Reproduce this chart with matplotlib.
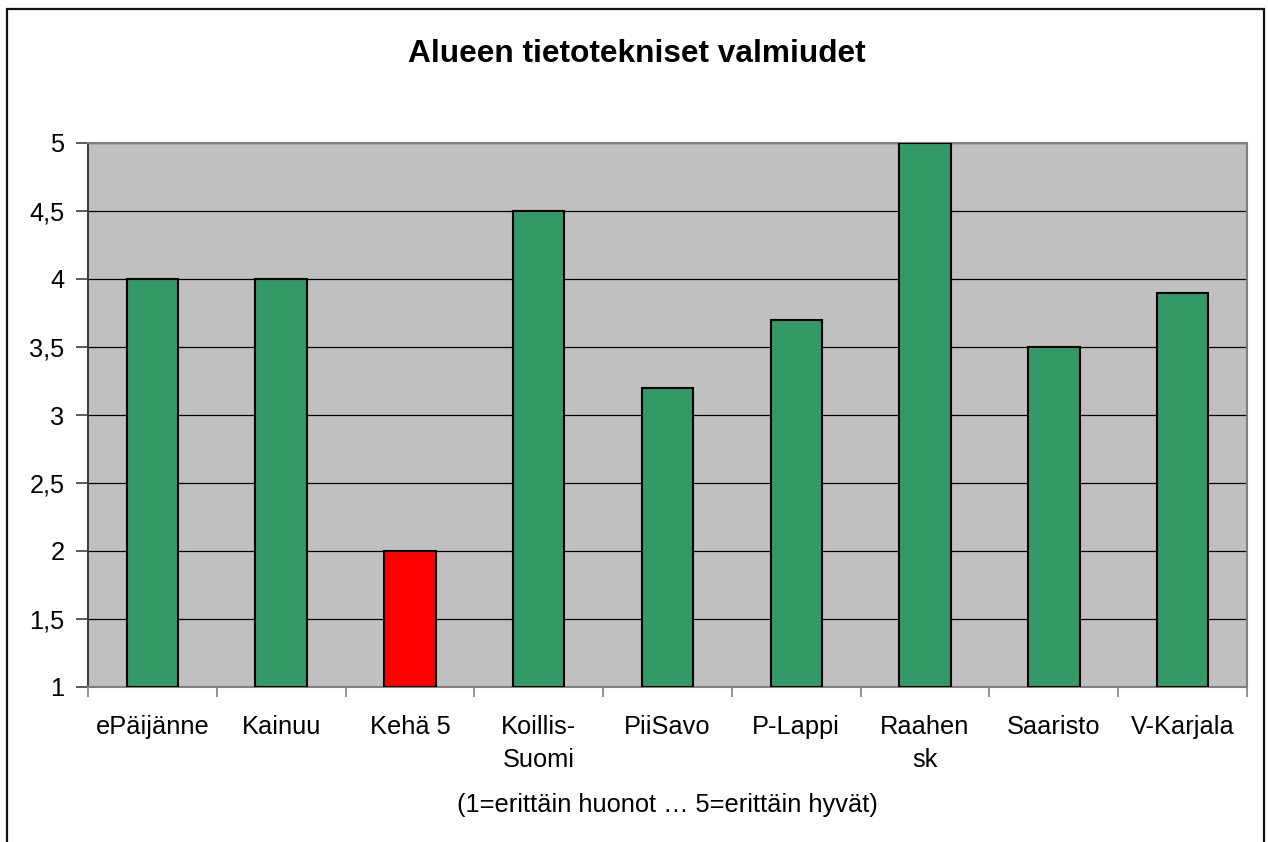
import numpy as np
import matplotlib
matplotlib.use('Agg')
import matplotlib.pyplot as plt
from matplotlib.patches import Rectangle
from matplotlib.ticker import FixedLocator, FuncFormatter

plt.rcParams['font.family'] = ['Liberation Sans', 'DejaVu Sans']

regions = ['ePäijänne', 'Kainuu', 'Kehä 5', 'Koillis-\nSuomi', 'PiiSavo',
           'P-Lappi', 'Raahen\nsk', 'Saaristo', 'V-Karjala']
scores = [4.0, 4.0, 2.0, 4.5, 3.2, 3.7, 5.0, 3.5, 3.9]
bar_colors = ['#339966', '#339966', '#ff0000', '#339966', '#339966',
              '#339966', '#339966', '#339966', '#339966']
yticks = [1, 1.5, 2, 2.5, 3, 3.5, 4, 4.5, 5]

W, H = 1268, 842
fig = plt.figure(figsize=(W / 100, H / 100), dpi=100)
fig.patch.set_facecolor('white')

# outer chart frame, open at the bottom edge
frame = Rectangle((7 / W, -0.05), (1264 - 7) / W, 1.05 - 9 / H,
                  transform=fig.transFigure, fill=False,
                  edgecolor='#111111', linewidth=1.6)
fig.add_artist(frame)

ax = fig.add_axes([88 / W, 1 - 687 / H, (1247 - 88) / W, (687 - 143) / H])
ax.set_facecolor('#c0c0c0')

x = np.arange(len(regions))
ax.bar(x, np.array(scores) - 1, bottom=1, width=0.4, color=bar_colors,
       edgecolor='black', linewidth=1.5, zorder=3)

ax.set_xlim(-0.5, len(regions) - 0.5)
ax.set_ylim(1, 5)

ax.yaxis.set_major_locator(FixedLocator(yticks))
ax.yaxis.set_major_formatter(FuncFormatter(lambda v, p: ('%g' % v).replace('.', ',')))
ax.grid(axis='y', color='black', linewidth=0.9, zorder=1)
ax.set_axisbelow(True)

# tick marks sit on category borders, names go under the centres
ax.set_xticks(np.arange(len(regions) + 1) - 0.5)
ax.set_xticklabels([])
ax.set_xticks(x, minor=True)
ax.set_xticklabels(regions, minor=True, linespacing=1.45)
ax.tick_params(axis='x', which='major', direction='out', length=7,
               color='#808080', width=1.2)
ax.tick_params(axis='x', which='minor', length=0, pad=20.5, labelsize=18.3)
ax.tick_params(axis='y', direction='out', length=9, color='#404040',
               width=1.2, pad=8, labelsize=18.3)

for side in ['top', 'right', 'bottom']:
    ax.spines[side].set_color('#808080')
    ax.spines[side].set_linewidth(1.5)
ax.spines['left'].set_color('#404040')
ax.spines['left'].set_linewidth(1.5)

fig.text(637 / W, 1 - 54 / H, 'Alueen tietotekniset valmiudet',
         ha='center', va='center', fontsize=22.8, fontweight='bold')
fig.text(667.5 / W, 1 - 805 / H, '(1=erittäin huonot … 5=erittäin hyvät)',
         ha='center', va='center', fontsize=18.3)

fig.savefig('out.png', dpi=100)
